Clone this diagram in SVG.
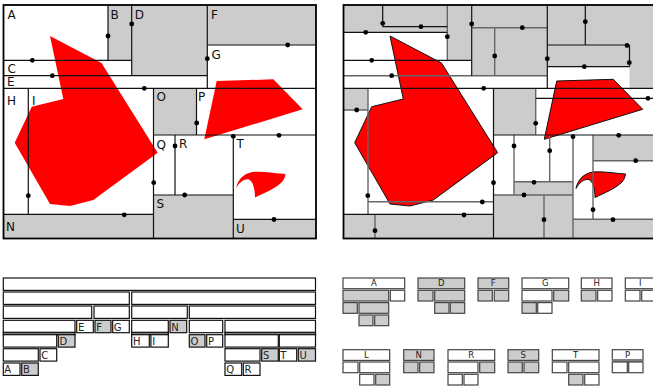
<svg xmlns="http://www.w3.org/2000/svg" width="653" height="388" viewBox="0 0 653 388">
<style>
.g{fill:#cccccc}
.w{fill:#ffffff}
.frame{fill:none;stroke:#000;stroke-width:1.8}
.k{stroke:#111;stroke-width:1.2;fill:none}
.m{stroke:#666;stroke-width:1.4;fill:none}
.dot{fill:#000}
.red{fill:#ff0000}
.redo{fill:#ff0000;stroke:#111;stroke-width:1}
.lbl{font-family:"DejaVu Sans",sans-serif;font-size:12px;fill:#111}
.tb rect{stroke:#111;stroke-width:1.2}
.tl{font-family:"DejaVu Sans",sans-serif;font-size:10px;fill:#222}
.fb rect{stroke:#444;stroke-width:1.2}
.fl{font-family:"DejaVu Sans",sans-serif;font-size:8.5px;fill:#222;text-anchor:middle}
.band{fill:#808080}
</style>
<defs>
<path id="cres" d="M236,188.5 C238,178 246,172 256,171.8 C266,171.6 276,173.5 285.5,174 C285,177 284,180 282,182 C275,189 264,193 255,197.5 C255,190 253.5,182 249,179.5 C244,178.5 239,183 236,188.5 Z"/>
</defs>
<rect x="0" y="0" width="653" height="388" fill="#fff"/>

<!-- LEFT PANEL -->
<g id="left-panel">
<rect x="3.5" y="5" width="312.5" height="233.5" fill="#fff"/>
<g id="region-B"><rect class="g" x="108" y="5" width="23.7" height="55.3"/></g>
<g id="region-D"><rect class="g" x="131.7" y="5" width="75.6" height="70.7"/></g>
<g id="region-F"><rect class="g" x="207.3" y="5" width="108.7" height="40"/></g>
<g id="region-O"><rect class="g" x="153.5" y="88.3" width="43" height="46.7"/></g>
<g id="region-N"><rect class="g" x="3.5" y="214.3" width="150" height="24.2"/></g>
<g id="region-S"><rect class="g" x="153.5" y="195" width="79.8" height="43.5"/></g>
<g id="region-U"><rect class="g" x="233.3" y="219.3" width="82.7" height="19.2"/></g>
<g id="left-shapes">
<polygon class="red" points="50,36 101.5,63 157.7,152.7 93.3,200 70,206 50,204 14.7,142.7 31.7,106.7 63.3,99"/>
<polygon class="red" points="216.7,81 273.3,79.3 302.7,109.3 204.3,139.3"/>
<use href="#cres" class="red"/>
</g>
<g id="left-connectors">
<path class="k" d="M108,5V60.3 M131.7,5V75.7 M3.5,60.3H131.7 M3.5,75.7H207.3 M207.3,5V88.3 M207.3,45H316 M3.5,88.3H316 M28.3,88.3V214.3 M153.5,88.3V238.5 M3.5,214.3H153.5 M196.5,88.3V135 M153.5,135H316 M175,135V195 M153.5,195H233.3 M233.3,135V238.5 M233.3,219.3H316"/>
<g class="dot">
<circle cx="108" cy="36" r="2.4"/><circle cx="131.7" cy="24" r="2.4"/><circle cx="32.3" cy="60.3" r="2.4"/><circle cx="52.3" cy="75.7" r="2.4"/>
<circle cx="144.3" cy="88.3" r="2.4"/><circle cx="287.7" cy="45" r="2.4"/><circle cx="207.3" cy="58.7" r="2.4"/><circle cx="28.3" cy="195.7" r="2.4"/>
<circle cx="196.7" cy="123" r="2.4"/><circle cx="233.3" cy="136.3" r="2.4"/><circle cx="279" cy="135.3" r="2.4"/><circle cx="175" cy="146" r="2.4"/>
<circle cx="153.7" cy="182.7" r="2.4"/><circle cx="184.7" cy="195" r="2.4"/><circle cx="274" cy="219.5" r="2.4"/><circle cx="124.3" cy="214.8" r="2.4"/>
</g>
</g>
<g id="left-labels" class="lbl">
<text id="lab-A" x="7.5" y="19">A</text>
<text id="lab-B" x="110.5" y="19">B</text>
<text id="lab-D" x="134.8" y="19">D</text>
<text id="lab-F" x="211" y="19">F</text>
<text id="lab-G" x="211.5" y="59">G</text>
<text id="lab-C" x="7.5" y="73">C</text>
<text id="lab-E" x="7" y="85.5">E</text>
<text id="lab-H" x="7" y="105">H</text>
<text id="lab-I" x="32" y="105">I</text>
<text id="lab-O" x="156.5" y="101">O</text>
<text id="lab-P" x="198" y="101">P</text>
<text id="lab-Q" x="156.5" y="148.5">Q</text>
<text id="lab-R" x="179" y="148.3">R</text>
<text id="lab-T" x="236.5" y="148.3">T</text>
<text id="lab-S" x="156.5" y="208">S</text>
<text id="lab-U" x="236" y="233">U</text>
<text id="lab-N" x="6" y="230.5">N</text>
</g>
<rect class="frame" x="3.5" y="5" width="312.5" height="233.5"/>
</g>

<!-- RIGHT PANEL -->
<g id="right-panel">
<rect x="343.5" y="5" width="312" height="233.5" fill="#fff"/>
<g id="rregions">
<rect class="g" x="343.5" y="5" width="103.8" height="27.3"/>
<rect class="g" x="447.3" y="5" width="24.4" height="55.3"/>
<rect class="g" x="471.7" y="5" width="75.6" height="70.7"/>
<rect class="g" x="547.3" y="5" width="108.7" height="40"/>
<rect class="g" x="547.3" y="45" width="82.2" height="21.7"/>
<rect class="g" x="629.5" y="45" width="26.5" height="43.3"/>
<rect class="g" x="343.5" y="88.3" width="24.5" height="21.7"/>
<rect class="g" x="493.5" y="88.3" width="42.2" height="46.7"/>
<rect class="g" x="514" y="181.7" width="59" height="13.3"/>
<rect class="g" x="593" y="135" width="63" height="25.7"/>
<rect class="g" x="343.5" y="214.3" width="150" height="24.2"/>
<rect class="g" x="493.5" y="195" width="79.5" height="43.5"/>
<rect class="g" x="573" y="219.3" width="83" height="19.2"/>
</g>
<g id="right-shapes">
<polygon class="redo" points="390,36 441.5,63 497.7,152.7 433.3,200 410,206 390,204 354.7,142.7 371.7,106.7 403.3,99"/>
<polygon class="redo" points="556.7,81 613.3,79.3 642.7,109.3 544.3,139.3"/>
<use href="#cres" class="redo" transform="translate(340,0)"/>
</g>
<g id="right-connectors">
<path class="m" d="M447.3,5V60.3 M343.5,75.7H547.3 M471.7,27.7H547.3 M494.7,27.7V75.7 M535.7,88.3V135 M368,88.3V214.3 M343.5,110H368 M368,201.7H493.5 M375,214.3V238.5 M514,135V195 M549.7,135V181.7 M514,181.7H573 M493.5,195H573 M544,195V238.5 M573,135V238.5 M593,135V219.3 M593,160.7H656 M573,219.3H656"/>
<path class="k" d="M382.7,5V26.7 M382.7,26.7H447.3 M343.5,32.3H447.3 M471.7,5V75.7 M343.5,60.3H471.7 M547.3,5V88.3 M585.3,5V45 M547.3,45H629.5 M629.5,45V66.7 M547.3,66.7H629.5 M343.5,88.3H656 M535.7,98.3H656 M493.5,135H656 M493.5,88.3V238.5 M343.5,214.3H493.5"/>
<g class="dot">
<circle cx="382.7" cy="23.3" r="2.4"/><circle cx="421" cy="26.7" r="2.4"/><circle cx="365.7" cy="32.3" r="2.4"/><circle cx="447.3" cy="36.7" r="2.4"/>
<circle cx="471.7" cy="24" r="2.4"/><circle cx="371.7" cy="60.3" r="2.4"/><circle cx="522.3" cy="27.7" r="2.4"/><circle cx="494.7" cy="56" r="2.4"/>
<circle cx="391.7" cy="75.7" r="2.4"/><circle cx="547.3" cy="58.7" r="2.4"/><circle cx="585.3" cy="21.7" r="2.4"/><circle cx="627" cy="45.5" r="2.4"/>
<circle cx="629.3" cy="62.7" r="2.4"/><circle cx="584.3" cy="66.7" r="2.4"/><circle cx="483.7" cy="88.3" r="2.4"/><circle cx="356.7" cy="110" r="2.4"/>
<circle cx="367.8" cy="195.7" r="2.4"/><circle cx="482.3" cy="202" r="2.4"/><circle cx="464" cy="215" r="2.4"/><circle cx="375" cy="230.7" r="2.4"/>
<circle cx="493.5" cy="182.7" r="2.4"/><circle cx="535.7" cy="123.3" r="2.4"/><circle cx="648" cy="98.3" r="2.4"/><circle cx="618.7" cy="135.3" r="2.4"/>
<circle cx="573" cy="136.7" r="2.4"/><circle cx="514" cy="146" r="2.4"/><circle cx="549.7" cy="150.7" r="2.4"/><circle cx="534" cy="182.3" r="2.4"/>
<circle cx="524" cy="195" r="2.4"/><circle cx="544" cy="219.7" r="2.4"/><circle cx="593" cy="209.7" r="2.4"/><circle cx="635.7" cy="160.7" r="2.4"/>
<circle cx="613" cy="219.7" r="2.4"/>
</g>
</g>
<rect class="frame" x="343.5" y="5" width="312" height="233.5"/>
</g>

<!-- BOTTOM-LEFT TREE -->
<g id="tree" class="tb">
<g id="t-root"><rect class="w" x="3.3" y="278" width="312.2" height="12.4"/></g>
<g id="t-L"><rect class="w" x="3.3" y="292" width="126" height="12.4"/></g>
<g id="t-R"><rect class="w" x="131.7" y="292" width="183.8" height="12.4"/></g>
<g id="t-LL"><rect class="w" x="3.3" y="306" width="88.4" height="12.4"/></g>
<g id="t-LR"><rect class="w" x="94" y="306" width="35.3" height="12.4"/></g>
<g id="t-RL"><rect class="w" x="131.7" y="306" width="55.6" height="12.4"/></g>
<g id="t-RR"><rect class="w" x="189.3" y="306" width="126.2" height="12.4"/></g>
<g id="t-LLL"><rect class="w" x="3.3" y="320.3" width="71.7" height="12.4"/></g>
<g id="t-E"><rect class="w" x="76.7" y="320.3" width="16.6" height="12.4"/><text class="tl" x="78" y="330.7">E</text></g>
<g id="t-F"><rect class="g" x="95" y="320.3" width="16" height="12.4"/><text class="tl" x="96.3" y="330.7">F</text></g>
<g id="t-G"><rect class="w" x="112.7" y="320.3" width="16.6" height="12.4"/><text class="tl" x="113.8" y="330.7">G</text></g>
<g id="t-RLL"><rect class="w" x="131.7" y="320.3" width="36.6" height="12.4"/></g>
<g id="t-N"><rect class="g" x="170" y="320.3" width="16.7" height="12.4"/><text class="tl" x="171.3" y="330.7">N</text></g>
<g id="t-RRL"><rect class="w" x="189.3" y="320.3" width="33.4" height="12.4"/></g>
<g id="t-RRR"><rect class="w" x="225" y="320.3" width="90.5" height="12.4"/></g>
<rect class="band" x="3.3" y="332.3" width="71.7" height="2.6"/>
<rect class="band" x="131.7" y="332.3" width="36.6" height="2.6"/>
<rect class="band" x="225" y="332.3" width="90.5" height="2.6"/>
<g id="t-ABC"><rect class="w" x="3.3" y="334.7" width="53.4" height="12.4"/></g>
<g id="t-D"><rect class="g" x="58.3" y="334.7" width="16.7" height="12.4"/><text class="tl" x="59.6" y="345.1">D</text></g>
<g id="t-H"><rect class="w" x="131.7" y="334.7" width="17.6" height="12.4"/><text class="tl" x="133" y="345.1">H</text></g>
<g id="t-I"><rect class="w" x="150.9" y="334.7" width="17.4" height="12.4"/><text class="tl" x="152.2" y="345.1">I</text></g>
<g id="t-O"><rect class="g" x="189.3" y="334.7" width="15.7" height="12.4"/><text class="tl" x="190.4" y="345.1">O</text></g>
<g id="t-P"><rect class="w" x="206.7" y="334.7" width="16" height="12.4"/><text class="tl" x="208" y="345.1">P</text></g>
<g id="t-QRS"><rect class="w" x="225" y="334.7" width="53.3" height="12.4"/></g>
<g id="t-TU"><rect class="w" x="279.3" y="334.7" width="36.2" height="12.4"/></g>
<g id="t-AB"><rect class="w" x="3.3" y="348.7" width="35" height="12.4"/></g>
<g id="t-C"><rect class="w" x="40" y="348.7" width="16.7" height="12.4"/><text class="tl" x="41.2" y="359.1">C</text></g>
<g id="t-QR"><rect class="w" x="225" y="348.7" width="35" height="12.4"/></g>
<g id="t-S"><rect class="g" x="261.7" y="348.7" width="16.6" height="12.4"/><text class="tl" x="263" y="359.1">S</text></g>
<g id="t-T"><rect class="w" x="279.3" y="348.7" width="17.4" height="12.4"/><text class="tl" x="280.2" y="359.1">T</text></g>
<g id="t-U"><rect class="g" x="298.3" y="348.7" width="17.2" height="12.4"/><text class="tl" x="299.6" y="359.1">U</text></g>
<g id="t-A"><rect class="w" x="3.3" y="363" width="16.7" height="12.4"/><text class="tl" x="4.3" y="373.4">A</text></g>
<g id="t-B"><rect class="g" x="21.7" y="363" width="16.6" height="12.4"/><text class="tl" x="23" y="373.4">B</text></g>
<g id="t-Q"><rect class="w" x="225" y="363" width="16.7" height="12.4"/><text class="tl" x="226.2" y="373.4">Q</text></g>
<g id="t-R2"><rect class="w" x="243.3" y="363" width="16.7" height="12.4"/><text class="tl" x="244.6" y="373.4">R</text></g>
</g>

<!-- BOTTOM-RIGHT FOREST -->
<g id="forest" class="fb">
<g id="f-A">
<rect class="w" x="343" y="278" width="61.7" height="10.7"/><text class="fl" x="373.8" y="285.8">A</text>
<rect class="g" x="343" y="290.3" width="45.7" height="10.7"/><rect class="w" x="390.3" y="290.3" width="14.4" height="10.7"/>
<rect class="g" x="343" y="302.6" width="14.3" height="10.7"/><rect class="g" x="359" y="302.6" width="29.7" height="10.7"/>
<rect class="g" x="359" y="315" width="14" height="10.7"/><rect class="g" x="374.7" y="315" width="14" height="10.7"/>
</g>
<g id="f-D">
<rect class="g" x="418" y="278" width="46.7" height="10.7"/><text class="fl" x="441.3" y="285.8">D</text>
<rect class="g" x="418" y="290.3" width="15" height="10.7"/><rect class="g" x="434.7" y="290.3" width="30" height="10.7"/>
<rect class="g" x="434.7" y="302.6" width="14.3" height="10.7"/><rect class="g" x="450.3" y="302.6" width="14.4" height="10.7"/>
</g>
<g id="f-F">
<rect class="g" x="478" y="278" width="30.7" height="10.7"/><text class="fl" x="493.3" y="285.8">F</text>
<rect class="g" x="478" y="290.3" width="14.3" height="10.7"/><rect class="g" x="494.3" y="290.3" width="14.4" height="10.7"/>
</g>
<g id="f-G">
<rect class="w" x="522" y="278" width="46.7" height="10.7"/><text class="fl" x="545.3" y="285.8">G</text>
<rect class="w" x="522" y="290.3" width="30" height="10.7"/><rect class="g" x="553.7" y="290.3" width="15" height="10.7"/>
<rect class="g" x="522" y="302.6" width="14.3" height="10.7"/><rect class="w" x="537.7" y="302.6" width="14.3" height="10.7"/>
</g>
<g id="f-H">
<rect class="w" x="581.3" y="278" width="30.7" height="10.7"/><text class="fl" x="596.6" y="285.8">H</text>
<rect class="g" x="581.3" y="290.3" width="14.7" height="10.7"/><rect class="w" x="597.7" y="290.3" width="14.3" height="10.7"/>
</g>
<g id="f-I">
<rect class="w" x="625.3" y="278" width="30.7" height="10.7"/><text class="fl" x="640.2" y="285.8">I</text>
<rect class="w" x="625.3" y="290.3" width="14.7" height="10.7"/><rect class="w" x="641.7" y="290.3" width="14.3" height="10.7"/>
</g>
<g id="f-L">
<rect class="w" x="343" y="349.7" width="46.7" height="10.7"/><text class="fl" x="366.3" y="357.5">L</text>
<rect class="w" x="343" y="362" width="15" height="10.7"/><rect class="w" x="359.7" y="362" width="30" height="10.7"/>
<rect class="w" x="359.7" y="374.3" width="14.3" height="10.7"/><rect class="g" x="375.7" y="374.3" width="14" height="10.7"/>
</g>
<g id="f-N">
<rect class="g" x="403.7" y="349.7" width="30.3" height="10.7"/><text class="fl" x="418.8" y="357.5">N</text>
<rect class="g" x="403.7" y="362" width="14.3" height="10.7"/><rect class="g" x="419.7" y="362" width="14.3" height="10.7"/>
</g>
<g id="f-R">
<rect class="w" x="448" y="349.7" width="46.7" height="10.7"/><text class="fl" x="471.3" y="357.5">R</text>
<rect class="w" x="448" y="362" width="30" height="10.7"/><rect class="g" x="479.7" y="362" width="15" height="10.7"/>
<rect class="w" x="448" y="374.3" width="14.3" height="10.7"/><rect class="w" x="464" y="374.3" width="14" height="10.7"/>
</g>
<g id="f-S">
<rect class="g" x="508" y="349.7" width="30.7" height="10.7"/><text class="fl" x="523.3" y="357.5">S</text>
<rect class="g" x="508" y="362" width="14.3" height="10.7"/><rect class="g" x="524" y="362" width="14.7" height="10.7"/>
</g>
<g id="f-T">
<rect class="w" x="552.3" y="349.7" width="46.7" height="10.7"/><text class="fl" x="575.6" y="357.5">T</text>
<rect class="w" x="552.3" y="362" width="14.7" height="10.7"/><rect class="w" x="568.7" y="362" width="30.3" height="10.7"/>
<rect class="g" x="568.7" y="374.3" width="14.3" height="10.7"/><rect class="w" x="584.7" y="374.3" width="14.3" height="10.7"/>
</g>
<g id="f-P">
<rect class="w" x="612.3" y="349.7" width="30.7" height="10.7"/><text class="fl" x="627.6" y="357.5">P</text>
<rect class="band" x="612.3" y="359" width="30.7" height="3" style="stroke:none"/>
<rect class="w" x="612.3" y="362" width="15" height="10.7"/><rect class="w" x="628.7" y="362" width="14.3" height="10.7"/>
</g>
</g>
</svg>
